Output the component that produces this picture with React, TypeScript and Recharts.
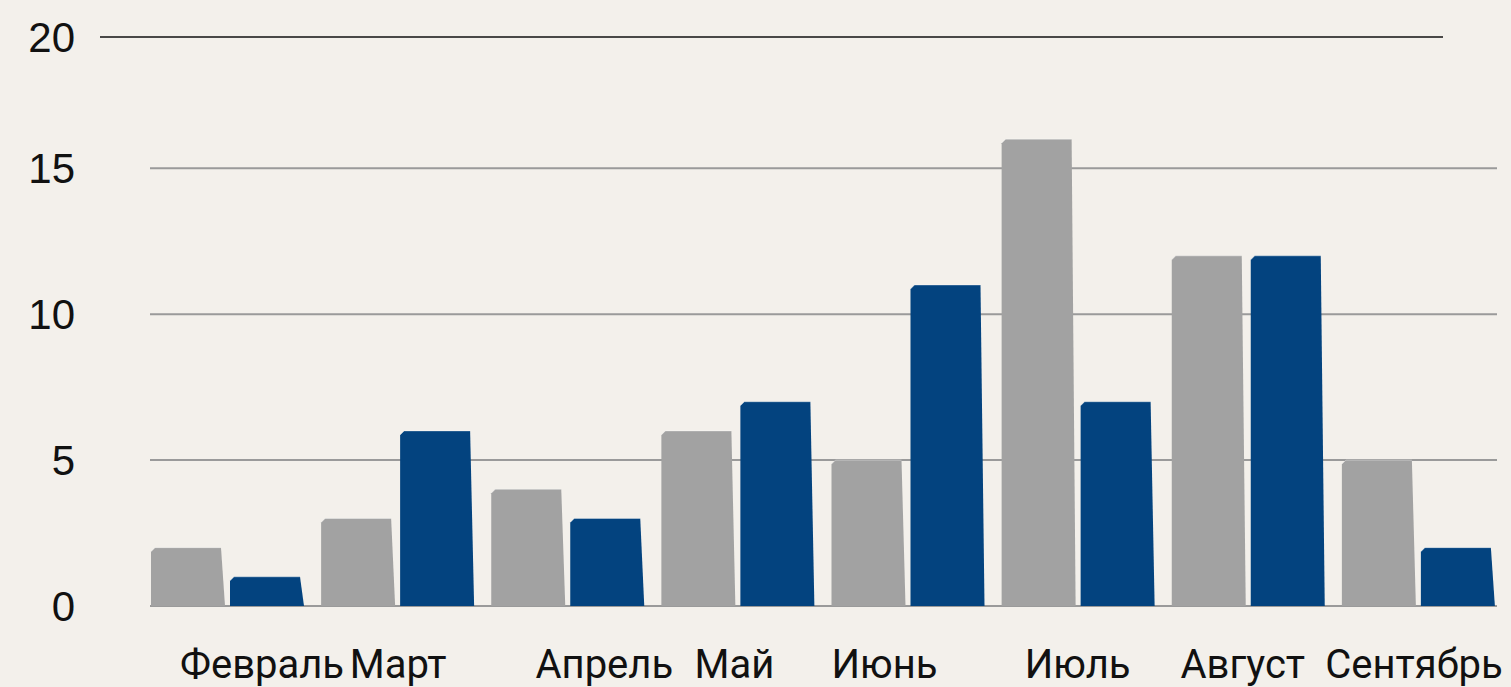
import React from "react";
import { BarChart, Bar, XAxis, YAxis, CartesianGrid } from "recharts";

const categories = ["Февраль", "Март", "Апрель", "Май", "Июнь", "Июль", "Август", "Сентябрь"];
const greySeries = [2, 3, 4, 6, 5, 16, 12, 5];
const blueSeries = [1, 6, 3, 7, 11, 7, 12, 2];
const yTicks = [0, 5, 10, 15, 19.5];
const labelNudge = [35, 1, 37, -3, -23, 0, -5, -4];

const data = categories.map((c, i) => ({ month: c, grey: greySeries[i], blue: blueSeries[i] }));

const BevelBar = (p: any) => {
  const { x, y, width, height, fill } = p;
  if (!height || height <= 0) return null;
  const c = 4;
  const d = 4;
  const path = `M${x},${y + c} L${x + c},${y} L${x + width - d},${y} L${x + width},${y + height} L${x},${y + height} Z`;
  return (
    <g>
      <path d={path} fill={fill} />
      <path d={`M${x},${y + c} L${x + c},${y} L${x + width - d},${y}`} fill="none" stroke="#ffffff" strokeOpacity={0.35} strokeWidth={1} />
    </g>
  );
};

const MonthTick = (p: any) => {
  const { x, y, payload, index } = p;
  return (
    <text
      x={x + (labelNudge[index] || 0)}
      y={y + 66}
      textAnchor="middle"
      fontFamily="Roboto, 'Liberation Sans', sans-serif"
      fontSize={40}
      fill="#111"
    >
      {payload.value}
    </text>
  );
};

const gridLine = (props: any) => {
  const { x1, x2, y1, key } = props;
  if (y1 < 60) {
    return <line key={key} x1={x1 - 42} x2={x2 - 60} y1={y1} y2={y1} stroke="#111" strokeWidth={1.3} />;
  }
  return <line key={key} x1={x1 + 8} x2={x2 - 6} y1={y1} y2={y1} stroke="#9a9a9a" strokeWidth={2} />;
};

export default function App() {
  return (
    <div style={{ position: "absolute", left: 0, top: 0, width: 1511, height: 687, background: "#f3f0eb", overflow: "hidden" }}>
      <BarChart
        width={1511}
        height={687}
        data={data}
        margin={{ top: 37, right: 8, bottom: 0, left: 0 }}
        barGap={5}
        barSize={74}
      >
        <CartesianGrid vertical={false} horizontal={gridLine} />
        <XAxis
          dataKey="month"
          axisLine={false}
          tickLine={false}
          tickMargin={0}
          height={81}
          interval={0}
          tick={<MonthTick />}
        />
        <YAxis
          domain={[0, 19.5]}
          ticks={yTicks}
          tickFormatter={(v: number) => String(Math.round(v))}
          axisLine={false}
          tickLine={false}
          width={142}
          tickMargin={61}
          interval={0}
          tick={{ fontSize: 42, fill: "#111", fontFamily: "'Liberation Sans', Arial, sans-serif" }}
        />
        <Bar dataKey="grey" fill="#a2a2a2" shape={<BevelBar />} isAnimationActive={false} />
        <Bar dataKey="blue" fill="#03437f" shape={<BevelBar />} isAnimationActive={false} />
      </BarChart>
    </div>
  );
}
